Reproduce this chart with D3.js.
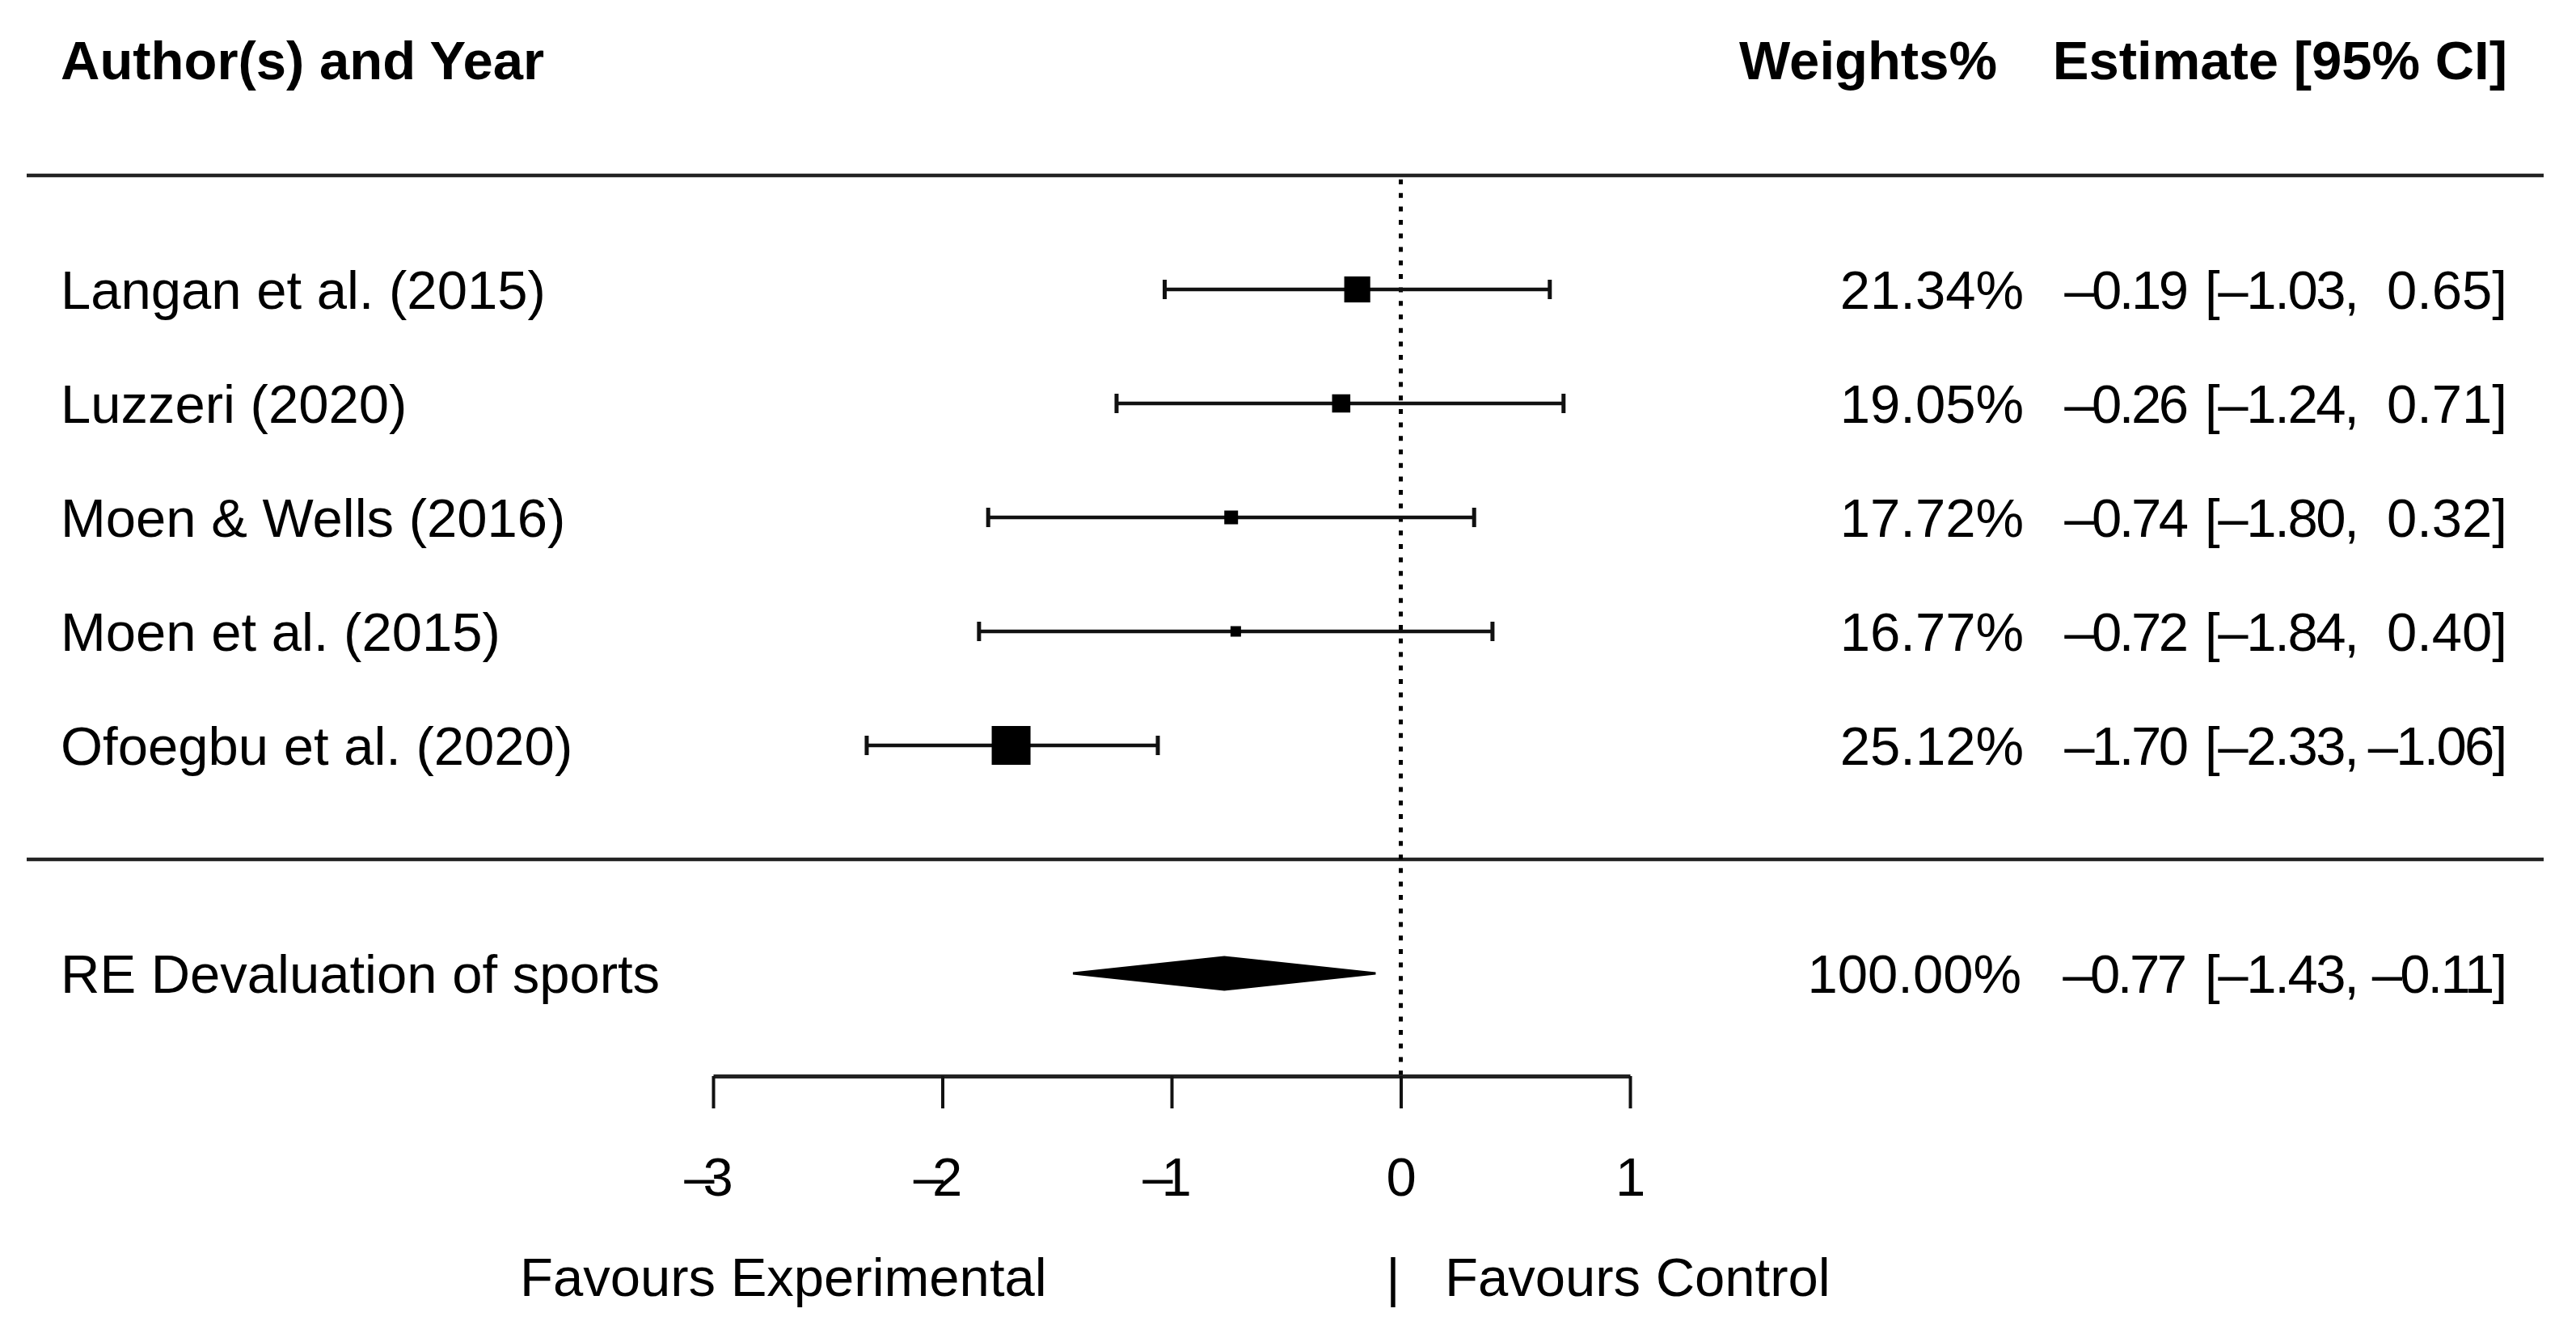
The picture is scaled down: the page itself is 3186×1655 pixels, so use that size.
<!DOCTYPE html>
<html>
<head>
<meta charset="utf-8">
<script src="https://cdn.jsdelivr.net/npm/d3@7"></script>
<style>
  body { margin: 0; background: #fff; }
  svg { display: block; font-family: "Liberation Sans", Arial, sans-serif; }
</style>
</head>
<body>
<svg width="3186" height="1655"></svg>
<script>
// study data
var studies = ["Langan et al. (2015)", "Luzzeri (2020)", "Moen & Wells (2016)", "Moen et al. (2015)", "Ofoegbu et al. (2020)"];
var weights = [21.34, 19.05, 17.72, 16.77, 25.12];
var estimates = [-0.19, -0.26, -0.74, -0.72, -1.70];
var lower = [-1.03, -1.24, -1.80, -1.84, -2.33];
var upper = [0.65, 0.71, 0.32, 0.40, -1.06];

// pooled random-effects result
var reLabel = "RE Devaluation of sports";
var reWeight = 100.00;
var reEst = -0.77, reLower = -1.43, reUpper = -0.11;

var xTicks = [-3, -2, -1, 0, 1];

var svg = d3.select("svg");
svg.append("rect").attr("width", 3186).attr("height", 1655).attr("fill", "#fff");

var x = d3.scaleLinear().domain([-3, 1]).range([882, 2016]);
// metafor style row units: studies at rows k..1, RE at -1, header at k+2
var y = d3.scaleLinear().domain([7, -1]).range([76, 1204]);
var size = d3.scaleLinear().domain(d3.extent(weights)).range([13, 48]);

var fs = 67;
var base = 24; // baseline offset so caps sit centred on the row
var axisY = 1331;

var k = studies.length;
var rows = studies.map(function (d, i) {
    return { name: d, w: weights[i], est: estimates[i], lb: lower[i], ub: upper[i], row: k - i };
});

function num(v) {
    return (v < 0 ? "\u2013" : "") + Math.abs(v).toFixed(2);
}

// R draws its minus tight against the digit: squeeze the string a little
function tight() {
    var n = (this.textContent.match(/\u2013/g) || []).length;
    if (!n) return;
    var len = this.getComputedTextLength();
    d3.select(this).attr("textLength", len - 14 * n).attr("lengthAdjust", "spacing");
}

// horizontal rules
[k + 1, 0].forEach(function (r) {
    svg.append("line")
        .attr("x1", 33).attr("x2", 3146)
        .attr("y1", y(r)).attr("y2", y(r))
        .attr("stroke", "#222").attr("stroke-width", 4.5);
});

// reference line at 0
svg.append("line")
    .attr("x1", x(0)).attr("x2", x(0))
    .attr("y1", y(k + 1) + 5).attr("y2", axisY)
    .attr("stroke", "#000").attr("stroke-width", 5)
    .attr("stroke-dasharray", "6,10.7");

// headers
svg.append("text")
    .attr("x", 75).attr("y", y(k + 2) + 22)
    .attr("font-size", fs).attr("font-weight", "bold")
    .text("Author(s) and Year");
svg.append("text")
    .attr("x", 2470).attr("y", y(k + 2) + 22)
    .attr("font-size", fs).attr("font-weight", "bold").attr("text-anchor", "end")
    .text("Weights%");
svg.append("text")
    .attr("x", 3101).attr("y", y(k + 2) + 22)
    .attr("font-size", fs).attr("font-weight", "bold").attr("text-anchor", "end")
    .text("Estimate [95% CI]");

var g = svg.selectAll(".study")
    .data(rows)
    .enter().append("g")
    .attr("class", "study")
    .attr("transform", function (d) { return "translate(0," + y(d.row) + ")"; });

g.append("line")
    .attr("x1", function (d) { return x(d.lb); })
    .attr("x2", function (d) { return x(d.ub); })
    .attr("stroke", "#111").attr("stroke-width", 4.5);

g.selectAll(".cap")
    .data(function (d) { return [d.lb, d.ub]; })
    .enter().append("line")
    .attr("class", "cap")
    .attr("x1", function (v) { return x(v); })
    .attr("x2", function (v) { return x(v); })
    .attr("y1", -12).attr("y2", 12)
    .attr("stroke", "#111").attr("stroke-width", 5);

g.append("rect")
    .attr("x", function (d) { return x(d.est) - size(d.w) / 2; })
    .attr("y", function (d) { return -size(d.w) / 2; })
    .attr("width", function (d) { return size(d.w); })
    .attr("height", function (d) { return size(d.w); })
    .attr("fill", "#000");

g.append("text")
    .attr("x", 75).attr("y", base)
    .attr("font-size", fs)
    .text(function (d) { return d.name; });

g.append("text")
    .attr("x", 2503).attr("y", base)
    .attr("font-size", fs).attr("text-anchor", "end")
    .text(function (d) { return d.w.toFixed(2) + "%"; });

g.append("text")
    .attr("x", 2707).attr("y", base)
    .attr("font-size", fs).attr("text-anchor", "end")
    .text(function (d) { return num(d.est); })
    .each(tight);

g.append("text")
    .attr("x", 2727).attr("y", base)
    .attr("font-size", fs)
    .text(function (d) { return "[" + num(d.lb) + ","; })
    .each(tight);

g.append("text")
    .attr("x", 3101).attr("y", base)
    .attr("font-size", fs).attr("text-anchor", "end")
    .text(function (d) { return num(d.ub) + "]"; })
    .each(tight);

// pooled estimate diamond
var ry = y(-1);
var dh = 20;
svg.append("polygon")
    .attr("points", [
        [x(reLower), ry], [x(reEst), ry - dh], [x(reUpper), ry], [x(reEst), ry + dh]
    ].map(function (p) { return p.join(","); }).join(" "))
    .attr("fill", "#000").attr("stroke", "#000").attr("stroke-width", 3);

svg.append("text")
    .attr("x", 75).attr("y", ry + base)
    .attr("font-size", fs)
    .text(reLabel);
svg.append("text")
    .attr("x", 2500).attr("y", ry + base)
    .attr("font-size", fs).attr("text-anchor", "end")
    .text(reWeight.toFixed(2) + "%");
svg.append("text").attr("x", 2705).attr("y", ry + base)
    .attr("font-size", fs).attr("text-anchor", "end")
    .text(num(reEst)).each(tight);
svg.append("text").attr("x", 2727).attr("y", ry + base)
    .attr("font-size", fs)
    .text("[" + num(reLower) + ",").each(tight);
svg.append("text").attr("x", 3101).attr("y", ry + base)
    .attr("font-size", fs).attr("text-anchor", "end")
    .text(num(reUpper) + "]").each(tight);

// x axis
var axis = svg.append("g")
    .attr("transform", "translate(0," + axisY + ")")
    .call(d3.axisBottom(x)
        .tickValues(xTicks)
        .tickSize(40)
        .tickSizeOuter(0)
        .tickPadding(60)
        .tickFormat(function (d) { return (d < 0 ? "\u2013" : "") + Math.abs(d); }));

axis.attr("font-family", null).attr("font-size", fs);
axis.select(".domain").attr("stroke", "#222").attr("stroke-width", 5);
axis.selectAll(".tick line").attr("stroke", "#111").attr("stroke-width", 4);
axis.selectAll(".tick text")
    .attr("fill", "#000")
    .attr("dx", function (d) { return d < 0 ? -6 : 0; })
    .each(tight);

// favours labels
svg.append("text")
    .attr("x", 643).attr("y", 1603)
    .attr("font-size", fs)
    .text("Favours Experimental");
svg.append("text")
    .attr("x", 1723).attr("y", 1603)
    .attr("font-size", fs).attr("text-anchor", "middle")
    .text("|");
svg.append("text")
    .attr("x", 1787).attr("y", 1603)
    .attr("font-size", fs)
    .text("Favours Control");
</script>
</body>
</html>
